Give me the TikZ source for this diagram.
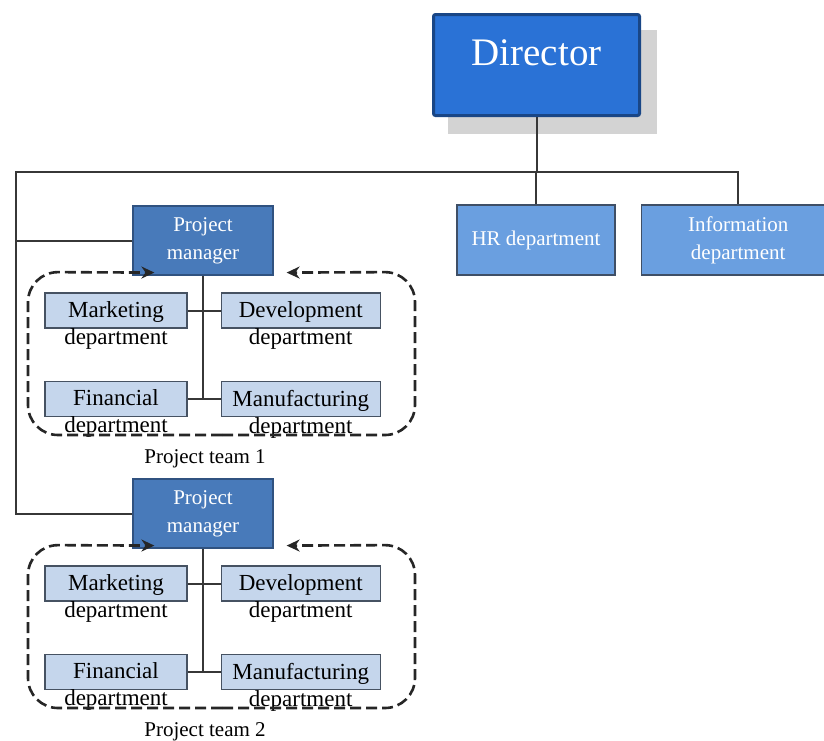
\documentclass[tikz,border=0pt]{standalone}
\usepackage{fontspec}
\setmainfont{Liberation Serif}
\usetikzlibrary{positioning, arrows.meta, backgrounds}
\definecolor{dirblue}{RGB}{42, 114, 214}
\definecolor{dirborder}{RGB}{25, 70, 134}
\definecolor{pmblue}{RGB}{72, 122, 186}
\definecolor{pmborder}{RGB}{48, 82, 128}
\definecolor{deptblue}{RGB}{106, 159, 224}
\definecolor{deptborder}{RGB}{63, 79, 102}
\definecolor{subblue}{RGB}{197, 214, 236}
\definecolor{subborder}{RGB}{70, 82, 98}
\definecolor{linegray}{RGB}{55, 55, 55}
\definecolor{shadowgray}{RGB}{211, 211, 211}

\begin{document}
\begin{tikzpicture}[
    x=1pt, y=-1pt, % pixel-like units, y grows downwards
    >=Stealth,
    % Director box
    director/.style={
        rectangle,
        rounded corners=2pt,
        draw=dirborder,
        line width=3pt,
        fill=dirblue,
        minimum width=206pt,
        minimum height=101pt,
        text=white,
        font=\fontsize{39}{46}\selectfont,
        text height=26pt,
        text depth=26pt
    },
    % Project manager boxes
    manager/.style={
        rectangle,
        draw=pmborder,
        line width=1.2pt,
        fill=pmblue,
        minimum width=140pt,
        minimum height=69pt,
        text=white,
        align=center,
        font=\fontsize{21}{28}\selectfont
    },
    % Staff departments
    dept/.style={
        rectangle,
        draw=deptborder,
        line width=1.2pt,
        fill=deptblue,
        minimum height=70pt,
        text=white,
        align=center,
        font=\fontsize{21}{28}\selectfont
    },
    % Departments inside a project team
    sub/.style={
        rectangle,
        draw=subborder,
        line width=1.2pt,
        fill=subblue,
        minimum height=35pt
    },
    subtext/.style={
        anchor=north,
        inner sep=0pt,
        align=center,
        font=\fontsize{23}{27}\selectfont
    },
    teamlabel/.style={
        anchor=base,
        font=\fontsize{21}{25}\selectfont
    },
    % Connectors
    conn/.style={draw=linegray, line width=2pt},
    team/.style={
        draw=black!85,
        line width=2.6pt,
        dash pattern=on 11pt off 5pt,
        rounded corners=30pt,
        -{Stealth[length=13pt, width=12pt]}
    }
]
\useasboundingbox (0,0) rectangle (824,740);

% Top level
\node[director] (dir) at (536.5,65) {Director};
\node[dept, minimum width=158pt] (hr) at (536,240) {HR department};
\node[dept, minimum width=194pt] (info) [right=25pt of hr] {Information\\department};

% Project teams
\foreach \t/\dy in {1/0, 2/273} {
\begin{scope}[yshift=-\dy pt]
    \node[manager] (pm\t) at (203,240.5) {Project\\manager};

    \node[sub, minimum width=142pt] (mkt\t) at (116,310.5) {};
    \node[sub, minimum width=159pt] (dev\t) [right=33pt of mkt\t] {};
    \node[sub, minimum width=142pt] (fin\t) [below=52pt of mkt\t] {};
    \node[sub, minimum width=159pt] (man\t) [right=33pt of fin\t] {};

    \node[subtext] (mkt\t-t) at ([yshift=-9pt]mkt\t.north) {Marketing\\department};
    \node[subtext] (dev\t-t) at ([yshift=-9pt]dev\t.north) {Development\\department};
    \node[subtext] (fin\t-t) at ([yshift=-9pt]fin\t.north) {Financial\\department};
    \node[subtext] (man\t-t) at ([yshift=-9pt]man\t.north) {Manufacturing\\department};

    \draw[conn] (pm\t.south) -- (pm\t.south |- fin\t.east);
    \draw[conn] (mkt\t.east) -- (dev\t.west);
    \draw[conn] (fin\t.east) -- (man\t.west);

    % dashed team outline, closing on the manager from both sides
    \draw[team] (222,435) -| (28,272) -- ([xshift=22pt, yshift=3pt]pm\t.south west);
    \draw[team] (222,435) -| (415,272) -- ([xshift=13pt, yshift=3pt]pm\t.south east);

    \node[teamlabel] (team\t) at (205,463) {Project team \t};
\end{scope}
}

% Reporting lines
\coordinate (busL) at (16,172);
\draw[conn] (dir.south) -- (dir.south |- busL);
\draw[conn] (pm2.west) -| (busL) -| (info.north);
\draw[conn] (hr.north) -- (hr.north |- busL);
\draw[conn] (pm1.west) -- (pm1.west -| busL);

% Director shadow
\begin{pgfonlayer}{background}
    \fill[shadowgray] ([shift={(16,17)}]dir.north west) rectangle ([shift={(16,17)}]dir.south east);
\end{pgfonlayer}

\end{tikzpicture}
\end{document}
